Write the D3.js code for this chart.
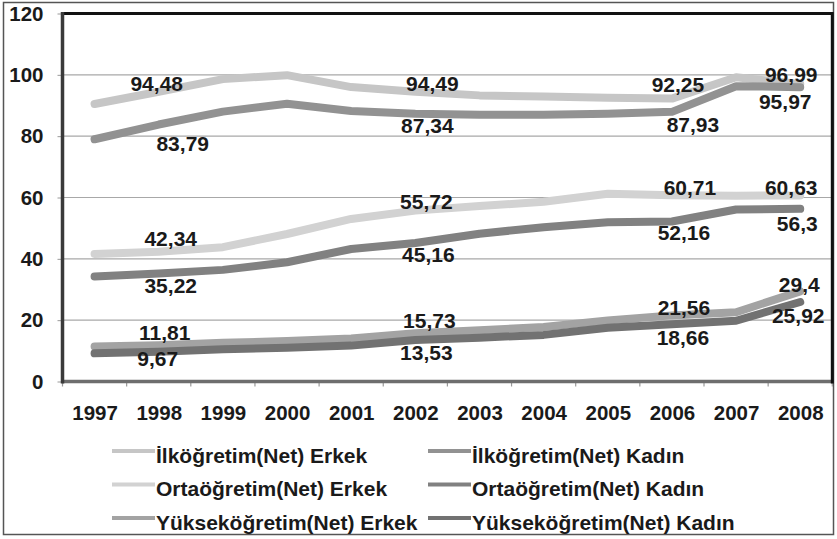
<!DOCTYPE html>
<html lang="tr">
<head>
<meta charset="utf-8">
<title>Okullaşma oranları</title>
<script src="https://d3js.org/d3.v7.min.js"></script>
<style>
  body { margin: 0; background: #fff; }
  svg text { font-family: "Liberation Sans", Arial, sans-serif; font-weight: bold; fill: #1a1a1a; }
</style>
</head>
<body>
<div id="chart"></div>
<script>

// years on the x axis
var years = ["1997", "1998", "1999", "2000", "2001", "2002", "2003", "2004", "2005", "2006", "2007", "2008"];

// net schooling rates (labelled points are exact)
var ilkErkek  = [90.5, 94.48, 98.6, 99.9, 96.0, 94.49, 93.3, 92.9, 92.5, 92.25, 99.2, 96.99];
var ilkKadin  = [79.0, 83.79, 88.0, 90.6, 88.2, 87.34, 87.0, 87.0, 87.3, 87.93, 96.3, 95.97];
var ortaErkek = [41.6, 42.34, 43.8, 48.1, 53.0, 55.72, 57.2, 58.6, 61.2, 60.71, 60.6, 60.63];
var ortaKadin = [34.2, 35.22, 36.4, 38.9, 43.2, 45.16, 48.2, 50.3, 51.9, 52.16, 56.1, 56.3];
var yukErkek  = [11.4, 11.81, 12.6, 13.2, 14.0, 15.73, 16.7, 17.8, 19.9, 21.56, 22.6, 29.4];
var yukKadin  = [9.2, 9.67, 10.5, 11.0, 11.7, 13.53, 14.3, 15.2, 17.5, 18.66, 19.8, 25.92];

var seriesNames = [
  "İlköğretim(Net) Erkek", "İlköğretim(Net) Kadın",
  "Ortaöğretim(Net) Erkek", "Ortaöğretim(Net) Kadın",
  "Yükseköğretim(Net) Erkek", "Yükseköğretim(Net) Kadın"
];
var seriesValues = [ilkErkek, ilkKadin, ortaErkek, ortaKadin, yukErkek, yukKadin];
var seriesColors = ["#c6c6c6", "#929292", "#d2d2d2", "#818181", "#a3a3a3", "#727272"];

var yTicks = [0, 20, 40, 60, 80, 100, 120];

// which years carry a value label
var labelledYears = [1, 5, 9, 11];
// label nudges (dx, dy in px) from the point, one row per series
var labelNudge = [
  [[-2, -8], [17, -8], [6, -14], [-9, -10]],
  [[24, 19], [12, 12], [21, 13], [-15, 14]],
  [[12, -13], [11, -9], [18, -8], [-9, -8]],
  [[12, 12], [13, 11], [12, 11], [-3, 15]],
  [[6, -13], [14, -13], [12, -8], [-1, -7]],
  [[-1, 7], [11, 12], [11, 13], [-2, 13]]
];

var W = 837, H = 539;
var plot = {left: 62.5, right: 832.3, top: 13.5, bottom: 381.5};

var svg = d3.select("#chart").append("svg")
    .attr("width", W)
    .attr("height", H);

var x = d3.scalePoint()
    .domain(years)
    .range([plot.left, plot.right])
    .padding(0.5);

var xBand = d3.scaleBand()
    .domain(years)
    .range([plot.left, plot.right]);

var y = d3.scaleLinear()
    .domain([0, 120])
    .range([plot.bottom, plot.top]);

// outer frame
svg.append("rect")
    .attr("x", 3.5).attr("y", 2.5)
    .attr("width", 830).attr("height", 532)
    .attr("fill", "none")
    .attr("stroke", "#555")
    .attr("stroke-width", 1.5);

// gridlines
svg.append("g")
  .selectAll("line")
  .data(yTicks.filter(function(d) { return d > 0 && d < 120; }))
  .enter().append("line")
    .attr("x1", plot.left).attr("x2", plot.right)
    .attr("y1", function(d) { return y(d); })
    .attr("y2", function(d) { return y(d); })
    .attr("stroke", "#a8a8a8")
    .attr("stroke-width", 1.2);

// y axis
var gy = svg.append("g")
    .attr("transform", "translate(" + plot.left + ",0)")
    .call(d3.axisLeft(y).tickValues(yTicks).tickSize(5).tickPadding(14));
gy.select(".domain").remove();
gy.selectAll(".tick line").attr("stroke", "#999");
gy.selectAll(".tick text").style("font-size", "20.5px");

// x axis labels
var gx = svg.append("g")
    .attr("transform", "translate(0," + plot.bottom + ")")
    .call(d3.axisBottom(x).tickSize(0).tickPadding(24));
gx.select(".domain").remove();
gx.selectAll(".tick text").style("font-size", "20.5px");

// x axis tick marks between categories
svg.append("g")
  .selectAll("line")
  .data(years.map(function(d) { return xBand(d); }).concat([plot.right]))
  .enter().append("line")
    .attr("x1", function(d) { return d; })
    .attr("x2", function(d) { return d; })
    .attr("y1", plot.bottom)
    .attr("y2", plot.bottom + 5)
    .attr("stroke", "#999")
    .attr("stroke-width", 1.2);

// plot borders
svg.append("line")
    .attr("x1", plot.left).attr("x2", plot.right)
    .attr("y1", plot.bottom).attr("y2", plot.bottom)
    .attr("stroke", "#6e6e6e").attr("stroke-width", 3.5);
svg.append("line")
    .attr("x1", plot.left).attr("x2", plot.right)
    .attr("y1", plot.top).attr("y2", plot.top)
    .attr("stroke", "#111").attr("stroke-width", 3);
svg.append("line")
    .attr("x1", plot.right).attr("x2", plot.right)
    .attr("y1", plot.top - 1.5).attr("y2", plot.bottom + 2)
    .attr("stroke", "#111").attr("stroke-width", 3);
svg.append("line")
    .attr("x1", plot.left).attr("x2", plot.left)
    .attr("y1", plot.top - 1.5).attr("y2", plot.bottom + 2)
    .attr("stroke", "#3a3a3a").attr("stroke-width", 3.5);

// lines
var line = d3.line()
    .x(function(d, i) { return x(years[i]); })
    .y(function(d) { return y(d); });

svg.append("g")
  .selectAll("path")
  .data(seriesValues)
  .enter().append("path")
    .attr("d", line)
    .attr("fill", "none")
    .attr("stroke", function(d, i) { return seriesColors[i]; })
    .attr("stroke-width", 8)
    .attr("stroke-linejoin", "round")
    .attr("stroke-linecap", "round");

// value labels
var labels = [];
seriesValues.forEach(function(vals, s) {
  labelledYears.forEach(function(yi, k) {
    labels.push({v: vals[yi], yi: yi, dx: labelNudge[s][k][0], dy: labelNudge[s][k][1]});
  });
});

svg.append("g")
  .selectAll("text")
  .data(labels)
  .enter().append("text")
    .attr("x", function(d) { return x(years[d.yi]) + d.dx; })
    .attr("y", function(d) { return y(d.v) + d.dy; })
    .attr("dy", "0.36em")
    .attr("text-anchor", "middle")
    .style("font-size", "21px")
    .text(function(d) { return String(d.v).replace(".", ","); });

// legend
var legend = svg.append("g")
  .selectAll("g")
  .data(seriesNames)
  .enter().append("g")
    .attr("transform", function(d, i) {
      var cx = i % 2 === 0 ? 112 : 428;
      var cy = 455 + Math.floor(i / 2) * 33.5;
      return "translate(" + cx + "," + cy + ")";
    });

legend.append("line")
    .attr("x1", 0).attr("x2", 43)
    .attr("y1", -4).attr("y2", -4)
    .attr("stroke", function(d, i) { return seriesColors[i]; })
    .attr("stroke-width", 4);

legend.append("text")
    .attr("x", 44)
    .attr("dy", "0.36em")
    .style("font-size", "21px")
    .text(function(d) { return d; });

</script>
</body>
</html>
